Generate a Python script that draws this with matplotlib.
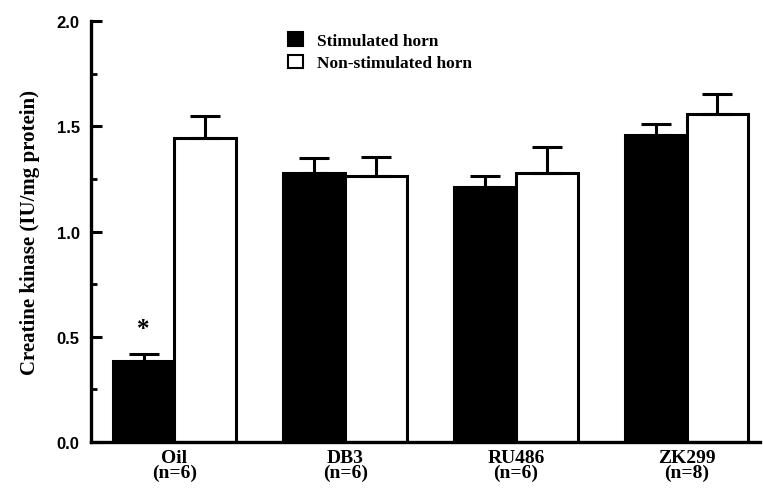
import matplotlib
matplotlib.use("Agg")
import matplotlib.pyplot as plt
import numpy as np
from matplotlib.ticker import MultipleLocator

groups = ["Oil", "DB3", "RU486", "ZK299"]
n_labels = ["(n=6)", "(n=6)", "(n=6)", "(n=8)"]
stimulated = [0.385, 1.28, 1.21, 1.46]
stimulated_err = [0.035, 0.07, 0.055, 0.05]
non_stimulated = [1.445, 1.262, 1.278, 1.56]
non_stimulated_err = [0.105, 0.09, 0.122, 0.092]

serif = "Liberation Serif"
sans = "Liberation Sans"

fig = plt.figure(figsize=(7.63, 4.89), dpi=100)
ax = fig.add_axes([0.119, 0.094, 0.877, 0.861])

x = np.arange(len(groups))
w = 0.362
lw = 2.2

ax.bar(x - w / 2, stimulated, w, color="black", edgecolor="black", linewidth=lw,
       yerr=[np.zeros(4), stimulated_err], capsize=11,
       error_kw=dict(elinewidth=lw, capthick=lw, ecolor="black"),
       label="Stimulated horn", zorder=2)
ax.bar(x + w / 2, non_stimulated, w, color="white", edgecolor="black", linewidth=lw,
       yerr=[np.zeros(4), non_stimulated_err], capsize=11,
       error_kw=dict(elinewidth=lw, capthick=lw, ecolor="black"),
       label="Non-stimulated horn", zorder=2)

# significance marker above the Oil stimulated bar
ax.text(x[0] - w / 2, stimulated[0] + stimulated_err[0] + 0.12, "*",
        ha="center", va="center", fontsize=18, fontweight="bold", family=serif)

ax.set_xlim(-0.49, 3.43)
ax.set_ylim(0, 2.0)
ax.yaxis.set_major_locator(MultipleLocator(0.5))
ax.yaxis.set_minor_locator(MultipleLocator(0.25))
ax.yaxis.set_major_formatter(plt.FormatStrFormatter("%.1f"))

ax.set_xticks(x)
ax.set_xticklabels([f"{g}\n{n}" for g, n in zip(groups, n_labels)],
                   family=serif, fontweight="bold", fontsize=14, linespacing=0.8)
ax.tick_params(axis="x", length=0, pad=5)
ax.tick_params(axis="y", which="major", direction="in", length=8, width=2.2,
               labelsize=12, pad=8)
ax.tick_params(axis="y", which="minor", direction="in", length=4, width=2)
for lab in ax.get_yticklabels():
    lab.set_family(sans)
    lab.set_fontweight("bold")

for side in ["top", "right"]:
    ax.spines[side].set_visible(False)
for side in ["left", "bottom"]:
    ax.spines[side].set_linewidth(2.4)

ax.set_ylabel("Creatine kinase (IU/mg protein)", family=serif, fontweight="bold",
              fontsize=15, labelpad=12)

leg = ax.legend(loc="upper left", bbox_to_anchor=(0.272, 1.01), frameon=False,
                handlelength=0.85, handleheight=0.85, handletextpad=0.8,
                labelspacing=0.3, prop=dict(family=serif, weight="bold", size=12.5))
for h in leg.legend_handles:
    h.set_linewidth(1.5)

fig.savefig("out.png", dpi=100)
